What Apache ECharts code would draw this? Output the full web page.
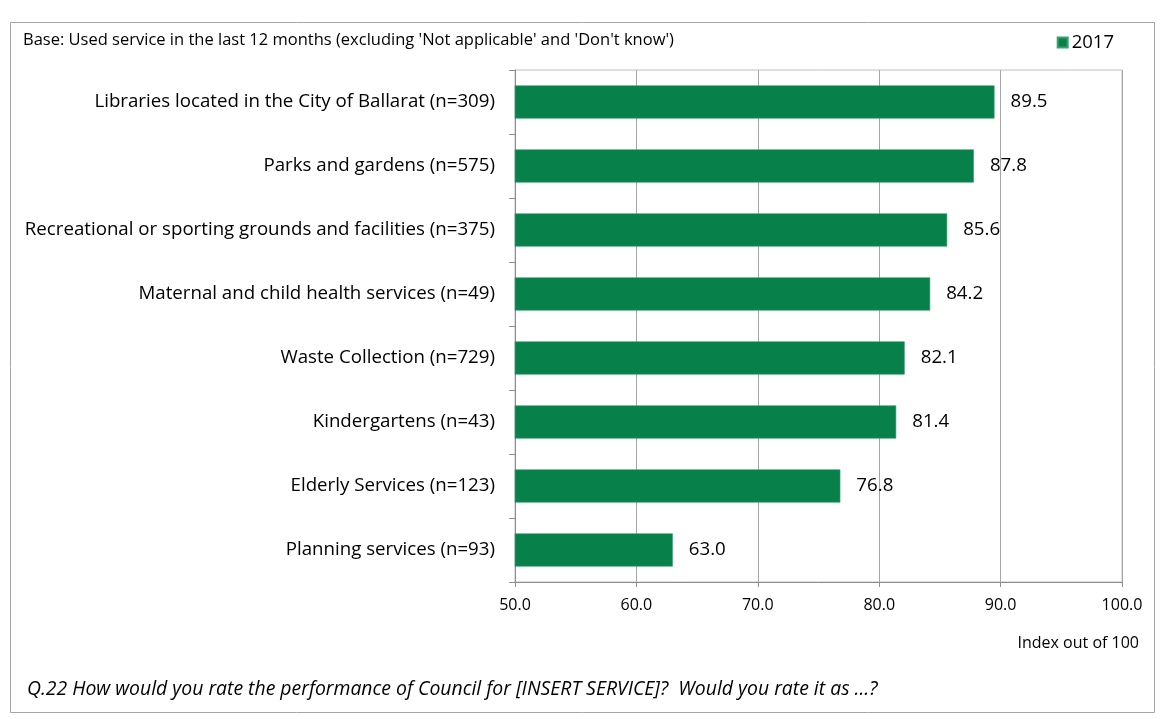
<!DOCTYPE html>
<html>
<head>
<meta charset="utf-8">
<script src="https://cdn.jsdelivr.net/npm/echarts@6/dist/echarts.min.js"></script>
<style>
  html, body { margin: 0; padding: 0; background: #fff; }
  #chart { width: 1160px; height: 719px; }
</style>
</head>
<body>
<div id="chart"></div>
<script>
// Service names with sample sizes, top to bottom
const services = [
  'Libraries located in the City of Ballarat (n=309)',
  'Parks and gardens (n=575)',
  'Recreational or sporting grounds and facilities (n=375)',
  'Maternal and child health services (n=49)',
  'Waste Collection (n=729)',
  'Kindergartens (n=43)',
  'Elderly Services (n=123)',
  'Planning services (n=93)'
];
// Performance index scores, 2017
const scores2017 = [89.5, 87.8, 85.6, 84.2, 82.1, 81.4, 76.8, 63.0];
const seriesName = '2017';
const axisMin = 50, axisMax = 100, axisStep = 10;

const FONT = 'Open Sans';
const GREEN = '#08804a';

const chart = echarts.init(document.getElementById('chart'), null, { renderer: 'canvas' });
chart.setOption({
  animation: false,
  textStyle: { fontFamily: FONT, color: '#000' },
  grid: { left: 515, right: 38, top: 70, bottom: 137, show: true, borderColor: '#bfbfbf', borderWidth: 1, backgroundColor: 'transparent' },
  legend: {
    data: [seriesName],
    right: 41, top: 28,
    itemWidth: 10, itemHeight: 10, itemGap: 4,
    icon: 'rect',
    textStyle: { fontFamily: FONT, fontSize: 18.5, color: '#000', padding: [0, 0, 0, -1] }
  },
  xAxis: {
    type: 'value',
    min: axisMin, max: axisMax, interval: axisStep,
    axisLine: { show: true, lineStyle: { color: '#8c8c8c' } },
    axisTick: { show: true, length: 5, lineStyle: { color: '#8c8c8c' } },
    splitLine: { show: true, lineStyle: { color: '#a6a6a6' } },
    axisLabel: { formatter: v => v.toFixed(1), fontSize: 16, color: '#000', margin: 15, fontFamily: FONT }
  },
  yAxis: {
    type: 'category',
    data: services,
    inverse: true,
    axisLine: { show: true, lineStyle: { color: '#8c8c8c' } },
    axisTick: { show: true, length: 6, lineStyle: { color: '#8c8c8c' } },
    axisLabel: { fontSize: 18.7, color: '#000', margin: 20, fontFamily: FONT }
  },
  series: [{
    name: seriesName,
    type: 'bar',
    data: scores2017,
    barWidth: '52%',
    itemStyle: { color: GREEN, borderColor: '#3aa070', borderWidth: 0.6 },
    label: {
      show: true, position: 'right', distance: 16,
      formatter: p => p.value.toFixed(1),
      fontSize: 18.7, color: '#000', fontFamily: FONT
    }
  }],
  graphic: [
    { type: 'rect', left: 8, top: 20, shape: { width: 1144, height: 690 }, style: { fill: 'none', stroke: '#a6a6a6', lineWidth: 1 }, silent: true },
    { type: 'text', left: 23, top: 32, style: { text: "Base: Used service in the last 12 months (excluding 'Not applicable' and 'Don't know')", font: '16.5px "Open Sans"', fill: '#000' } },
    { type: 'text', right: 21, top: 635, style: { text: 'Index out of 100', font: '16px "Open Sans"', fill: '#000' } },
    { type: 'text', left: 27, top: 680, style: { text: 'Q.22 How would you rate the performance of Council for [INSERT SERVICE]?  Would you rate it as …?', font: 'italic 19.4px "Open Sans"', fill: '#000' } }
  ]
});
</script>
</body>
</html>
